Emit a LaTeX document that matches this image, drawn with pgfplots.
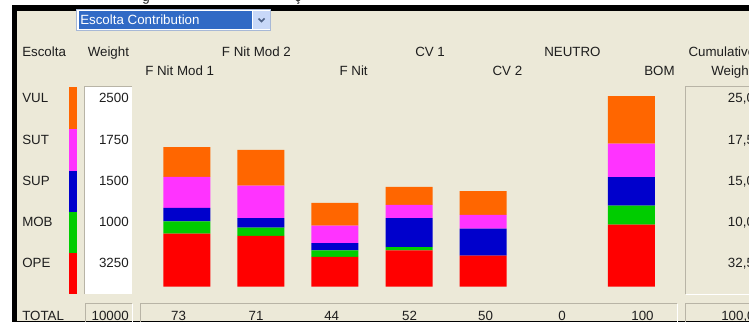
\documentclass[border=0pt]{standalone}
\usepackage{pgfplots}
\pgfplotsset{compat=1.18}
\usepackage{fontspec}
\setmainfont{Liberation Sans}
\definecolor{bg}{HTML}{ECE9D8}
\definecolor{cOPE}{HTML}{FF0000}
\definecolor{cMOB}{HTML}{00CC00}
\definecolor{cSUP}{HTML}{0000CC}
\definecolor{cSUT}{HTML}{FF33FF}
\definecolor{cVUL}{HTML}{FF6600}
\definecolor{sel}{HTML}{316AC5}
\definecolor{edge}{HTML}{B8B4A6}
\definecolor{combob}{HTML}{A7B8D6}
\definecolor{btn}{HTML}{C8D8F8}
\definecolor{chev}{HTML}{4D6185}
\definecolor{txt}{HTML}{1E1E1E}

\begin{document}
\begin{tikzpicture}[x=0.75pt,y=0.75pt]
\useasboundingbox (0,0) rectangle (749,322);
\clip (0,0) rectangle (749,322);
\begin{scope}[yshift=241.5pt,y=-0.75pt,every node/.style={font=\fontsize{10}{12}\selectfont,inner sep=0pt,text=txt}]
\fill[white] (0,0) rectangle (749,322);
\fill[bg] (17,11) rectangle (749,321);
% cut-off text above the frame
\node[anchor=base] at (146,1.5) {g};
\node[anchor=base] at (298,1.5) {ç};
% frame
\fill[black] (12,5) rectangle (749,11);
\fill[black] (12,5) rectangle (17,322);
\fill[black] (12,320.8) rectangle (749,322);
% dropdown
\fill[combob] (76,9.5) rectangle (271,31.5);
\fill[white] (77,10.5) rectangle (270,30.5);
\fill[sel] (78.5,11.5) rectangle (252,29.5);
\fill[btn] (253,11.5) rectangle (270,29.5);
\draw[chev,line width=1.2pt] (258.5,18.5) -- (261.5,21.5) -- (264.5,18.5);
\node[anchor=base west,text=white] at (80,25) {Escolta Contribution};
% column headers
\node[anchor=base west] at (22,56.5) {Escolta};
\node[anchor=base west] at (87.5,56.5) {Weight};
\node[anchor=base west] at (221.7,56.5) {F Nit Mod 2};
\node[anchor=base west] at (415,56.5) {CV 1};
\node[anchor=base west] at (544,56.5) {NEUTRO};
\node[anchor=base west] at (688.3,56.5) {Cumulative};
\node[anchor=base west] at (145,75) {F Nit Mod 1};
\node[anchor=base west] at (339.3,75) {F Nit};
\node[anchor=base west] at (492.3,75) {CV 2};
\node[anchor=base west] at (644,75) {BOM};
\node[anchor=base west] at (711,75) {Weight};
% row labels
\node[anchor=base west] at (22,102.7) {VUL};
\node[anchor=base west] at (22,144) {SUT};
\node[anchor=base west] at (22,185.3) {SUP};
\node[anchor=base west] at (22,226.6) {MOB};
\node[anchor=base west] at (22,267.9) {OPE};
\node[anchor=base west] at (22,320) {TOTAL};
% colour strip
\fill[cVUL] (68.5,87) rectangle (76.5,129);
\fill[cSUT] (68.5,129) rectangle (76.5,170.5);
\fill[cSUP] (68.5,170.5) rectangle (76.5,211.7);
\fill[cMOB] (68.5,211.7) rectangle (76.5,253.3);
\fill[cOPE] (68.5,253.3) rectangle (76.5,294);
% weight box
\fill[white] (85,87) rectangle (132,294);
\draw[edge,line width=0.9pt] (84.2,294) -- (84.2,86.2) -- (132,86.2);
\node[anchor=base east] at (129,102.7) {2500};
\node[anchor=base east] at (129,144) {1750};
\node[anchor=base east] at (129,185.3) {1500};
\node[anchor=base east] at (129,226.6) {1000};
\node[anchor=base east] at (129,267.9) {3250};
% cumulative box
\draw[edge,line width=0.9pt] (685.5,294) -- (685.5,86.5) -- (749,86.5);
\draw[white,line width=0.9pt] (685.5,294.3) -- (749,294.3);
\node[anchor=base west] at (727.7,102.7) {25,00};
\node[anchor=base west] at (727.7,144) {17,50};
\node[anchor=base west] at (727.7,185.3) {15,00};
\node[anchor=base west] at (727.7,226.6) {10,00};
\node[anchor=base west] at (727.7,267.9) {32,50};
% bottom boxes
\draw[edge,line width=0.9pt] (85.5,322) -- (85.5,303.5) -- (132,303.5);
\draw[white,line width=0.9pt] (132.5,303.5) -- (132.5,322);
\draw[edge,line width=0.9pt] (140.5,322) -- (140.5,303.5) -- (677,303.5);
\draw[white,line width=0.9pt] (677.5,303.5) -- (677.5,322);
\draw[edge,line width=0.9pt] (685.5,322) -- (685.5,303.5) -- (749,303.5);
\node[anchor=base east] at (129,320) {10000};
\node[anchor=base] at (178.5,320) {73};
\node[anchor=base] at (256,320) {71};
\node[anchor=base] at (331.7,320) {44};
\node[anchor=base] at (409.5,320) {52};
\node[anchor=base] at (485.5,320) {50};
\node[anchor=base] at (562,320) {0};
\node[anchor=base] at (642.5,320) {100};
\node[anchor=base west] at (721,320) {100,00};
\end{scope}
\begin{axis}[at={(112.35pt,26.475pt)},anchor=south west,scale only axis,
  width=388.875pt,height=143.025pt,xmin=-0.5,xmax=6.5,ymin=0,ymax=100,
  hide axis,ybar stacked,bar width=35.25pt,clip=false]
\addplot[fill=cOPE,draw=none] coordinates {(0,27.8) (1,26.6) (2,15.7) (3,19.1) (4,16.3) (5,0) (6,32.5)};
\addplot[fill=cMOB,draw=none] coordinates {(0,6.5) (1,4.4) (2,3.4) (3,1.6) (4,0) (5,0) (6,10)};
\addplot[fill=cSUP,draw=none] coordinates {(0,7.0) (1,4.9) (2,3.8) (3,15.2) (4,14.2) (5,0) (6,15)};
\addplot[fill=cSUT,draw=none] coordinates {(0,16.3) (1,17.1) (2,9.1) (3,7.0) (4,7.2) (5,0) (6,17.5)};
\addplot[fill=cVUL,draw=none] coordinates {(0,15.6) (1,18.7) (2,11.9) (3,9.4) (4,12.4) (5,0) (6,25)};
\end{axis}
\end{tikzpicture}
\end{document}
